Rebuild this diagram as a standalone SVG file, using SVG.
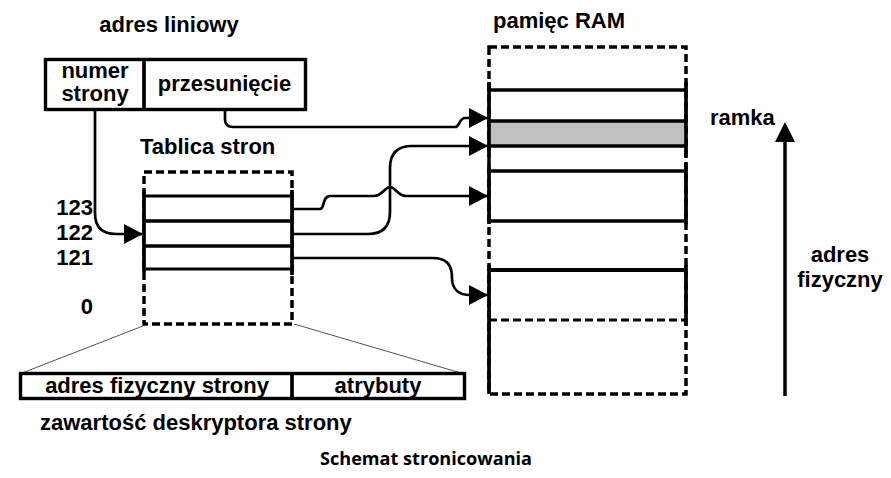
<svg xmlns="http://www.w3.org/2000/svg" width="891" height="478" viewBox="0 0 891 478">
<defs>
<style>
text{font-family:"Liberation Sans",Arial,sans-serif;font-weight:bold;font-size:22px;fill:#000}
.box{fill:#fff;stroke:#000;stroke-width:3.4}
.dash{fill:none;stroke:#000;stroke-width:3.5;stroke-dasharray:8 4}
.solid{fill:none;stroke:#000;stroke-width:3.7}
.conn{fill:none;stroke:#000;stroke-width:2.7}
.thin{fill:none;stroke:#555;stroke-width:1}
</style>
<marker id="ah" markerUnits="userSpaceOnUse" markerWidth="20" markerHeight="22" refX="19" refY="10" orient="auto" viewBox="0 0 20 20">
<path d="M0,0 L19,10 L0,20 Z" fill="#000"/>
</marker>
</defs>
<rect width="891" height="478" fill="#fff"/>

<g id="linear-address">
<text x="169" y="32" text-anchor="middle">adres liniowy</text>
<rect class="box" x="45.5" y="59.5" width="260" height="50"/>
<line class="solid" x1="144" y1="59.5" x2="144" y2="109.5"/>
<text x="95" y="78" text-anchor="middle">numer</text>
<text x="95" y="101" text-anchor="middle">strony</text>
<text x="224.5" y="91" text-anchor="middle">przesunięcie</text>
</g>

<g id="page-table">
<text x="140" y="154">Tablica stron</text>
<rect class="dash" x="144" y="172" width="148" height="152"/>
<rect x="144" y="196" width="148" height="73" fill="#fff"/>
<line class="solid" x1="144" y1="196" x2="292" y2="196" style="stroke-width:3"/>
<line class="solid" x1="144" y1="221" x2="292" y2="221"/>
<line class="solid" x1="144" y1="246" x2="292" y2="246"/>
<line class="solid" x1="144" y1="269" x2="292" y2="269" style="stroke-width:3"/>
<line class="solid" x1="144" y1="192" x2="144" y2="272"/>
<line class="solid" x1="292" y1="190" x2="292" y2="275"/>
<text x="93" y="215" text-anchor="end">123</text>
<text x="93" y="240" text-anchor="end">122</text>
<text x="93" y="265" text-anchor="end">121</text>
<text x="93" y="314" text-anchor="end">0</text>
</g>

<g id="descriptor">
<line class="thin" x1="143" y1="326" x2="22" y2="373"/>
<line class="thin" x1="294" y1="324" x2="461" y2="373"/>
<rect class="box" x="20.5" y="373.5" width="444" height="25"/>
<line class="solid" x1="292" y1="373.5" x2="292" y2="398.5"/>
<text x="157" y="393" text-anchor="middle">adres fizyczny strony</text>
<text x="378" y="393" text-anchor="middle">atrybuty</text>
<text x="40" y="430">zawartość deskryptora strony</text>
</g>

<g id="ram">
<text x="493" y="28">pamięc RAM</text>
<rect class="dash" x="489" y="47" width="197" height="347"/>
<rect x="489" y="121" width="197" height="25" fill="#c0c0c0"/>
<line class="solid" x1="489" y1="90" x2="686" y2="90"/>
<line class="solid" x1="489" y1="121" x2="686" y2="121"/>
<line class="solid" x1="489" y1="146" x2="686" y2="146"/>
<line class="solid" x1="489" y1="171" x2="686" y2="171"/>
<line class="solid" x1="489" y1="221" x2="686" y2="221"/>
<line class="solid" x1="489" y1="270" x2="686" y2="270" style="stroke-width:4.2"/>
<line class="solid" x1="489" y1="82" x2="489" y2="157"/>
<line class="solid" x1="686" y1="82" x2="686" y2="157"/>
<line class="solid" x1="489" y1="163" x2="489" y2="224"/>
<line class="solid" x1="686" y1="163" x2="686" y2="224"/>
<line class="solid" x1="489" y1="265" x2="489" y2="394"/>
<line class="solid" x1="686" y1="265" x2="686" y2="326"/>
<line x1="489" y1="320" x2="686" y2="320" class="dash" style="stroke-width:3"/>
</g>

<g id="physical-axis">
<text x="710" y="125">ramka</text>
<text x="840" y="262" text-anchor="middle">adres</text>
<text x="840" y="287" text-anchor="middle">fizyczny</text>
<line x1="785" y1="396" x2="785" y2="140" stroke="#000" stroke-width="3.5"/>
<polygon points="775,142 795,142 785,122" fill="#000"/>
</g>

<g id="connectors">
<path class="conn" d="M95,111 V213 Q95,234 116,234 H143" marker-end="url(#ah)"/>
<path class="conn" d="M225,111 V119 Q225,127 233,127 H455 C460,127 459,118 465,118 H488" marker-end="url(#ah)"/>
<path class="conn" d="M292,209 H320 C325,209 322,196 330,196 H374 C382,196 385,187 390,187 C395,187 398,196 406,196 H488" marker-end="url(#ah)"/>
<path class="conn" d="M292,234 H368 Q390,234 390,212 V168 Q390,146 412,146 H488" marker-end="url(#ah)"/>
<path class="conn" d="M292,258 H432 C448,258 452,266 452,278 C452,290 460,295 470,295 H488" marker-end="url(#ah)"/>
</g>

<text x="426" y="465" text-anchor="middle" textLength="212" lengthAdjust="spacingAndGlyphs" style="font-family:'Open Sans','Noto Sans',sans-serif;font-size:18px;font-weight:bold">Schemat stronicowania</text>
</svg>
